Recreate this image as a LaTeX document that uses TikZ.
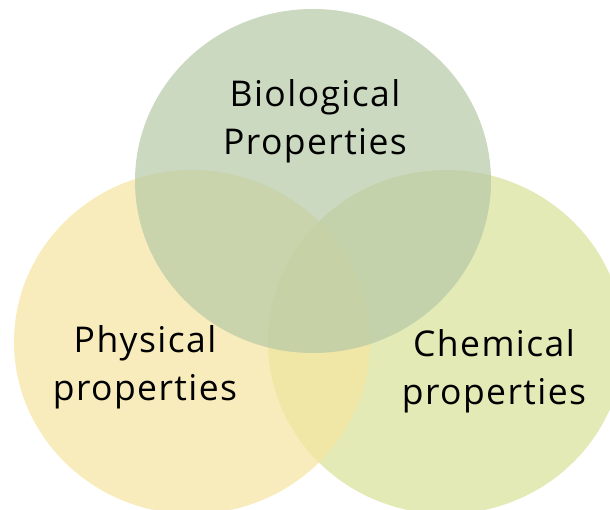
\documentclass[tikz,border=0pt]{standalone}
\usepackage{fontspec}
\setmainfont[LetterSpace=4]{Open Sans}
\definecolor{vertgris}{RGB}{182,201,166}
\definecolor{jaunepale}{RGB}{245,228,160}
\definecolor{vertjaune}{RGB}{215,225,151}
\begin{document}
\begin{tikzpicture}[x=1pt, y=-1pt]
\tikzstyle{cercle} = [fill opacity=0.7, draw=none];
\tikzstyle{etiquette} = [align=center, text=black, font=\fontsize{35.5}{48}\selectfont];
\useasboundingbox (0,0) rectangle (610,510);
\clip (0,0) rectangle (610,510);
% les trois cercles
\fill[cercle, fill=vertjaune] (446,342) ellipse [x radius=178pt, y radius=172pt];
\fill[cercle, fill=jaunepale] (192,342) ellipse [x radius=178pt, y radius=172pt];
\fill[cercle, fill=vertgris] (313,181) ellipse [x radius=178pt, y radius=172pt];
% textes
\node[etiquette] (bio) at (315,121.5) {Biological\\Properties};
\node[etiquette] (phys) at (145,367.5) {Physical\\properties};
\node[etiquette] (chim) at (494,371.5) {Chemical\\properties};
\end{tikzpicture}
\end{document}
